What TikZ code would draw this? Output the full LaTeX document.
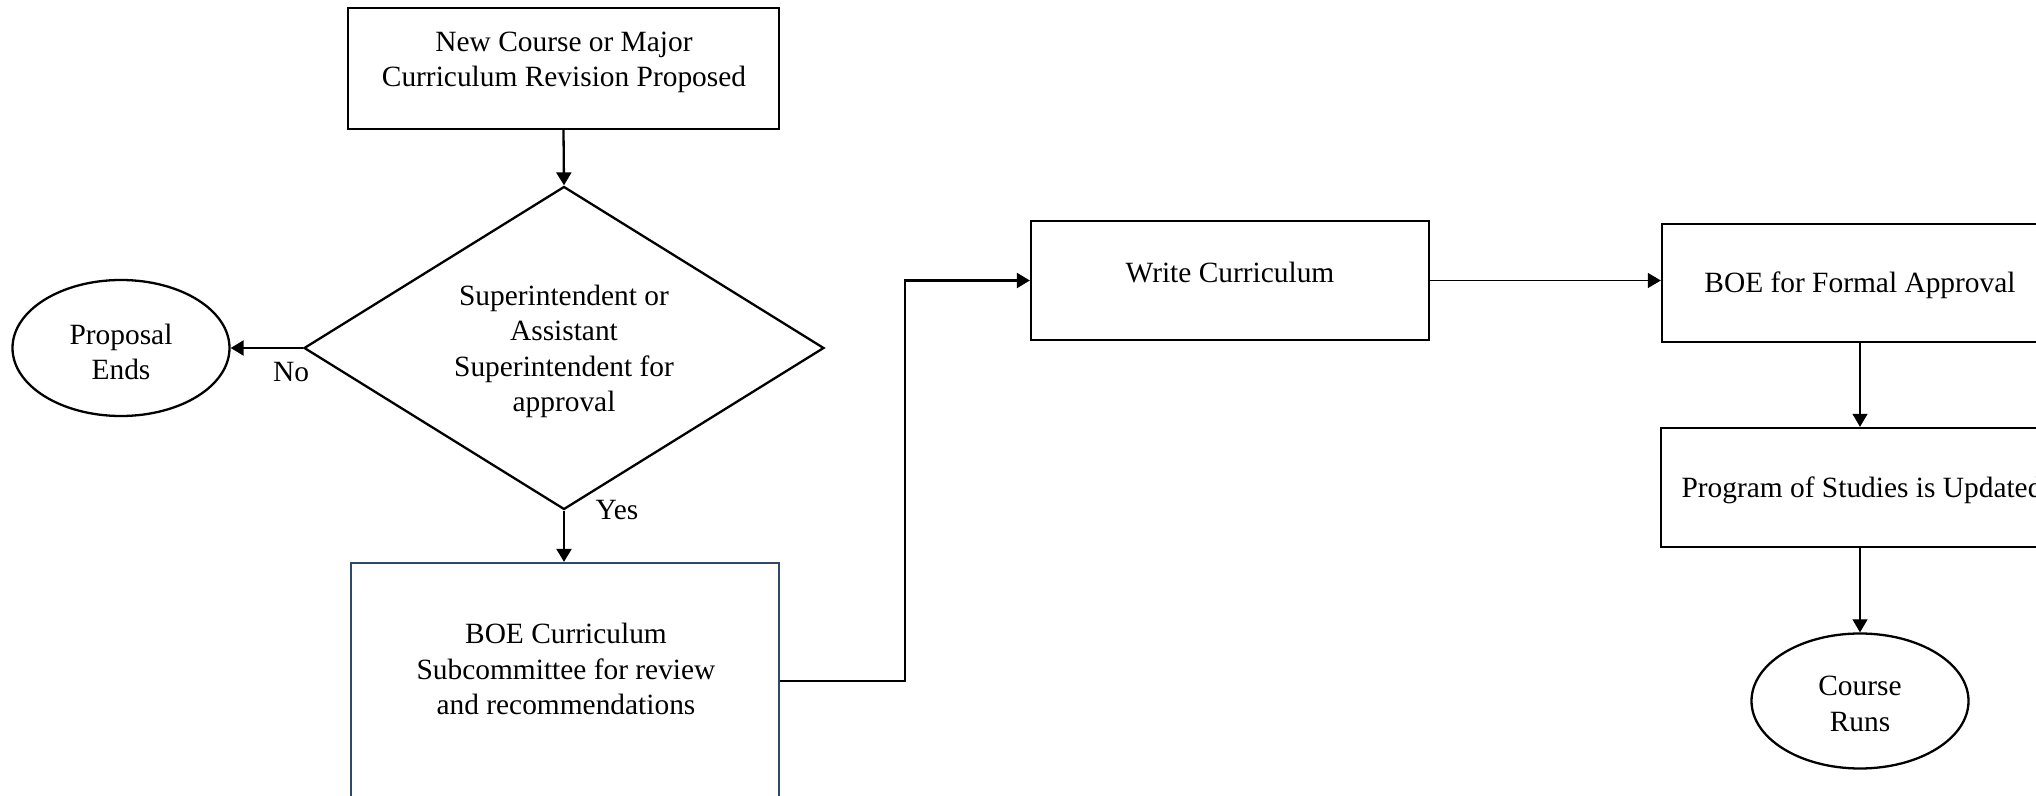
\documentclass[tikz,border=0pt]{standalone}
\usepackage{fontspec}
\setmainfont{Liberation Serif}
\usetikzlibrary{shapes.geometric,arrows.meta}
\definecolor{boeblue}{HTML}{2F4A68}
\tikzset{
  box/.style={draw, line width=1.15pt, rectangle, inner sep=0pt},
  oval/.style={draw, line width=1.15pt, ellipse, inner sep=0pt},
  txt/.style={align=center, inner sep=0pt, font=\fontsize{14.7}{17.6}\selectfont},
  conn/.style={line width=1.15pt, -{Triangle[length=6.5pt,width=7.5pt]}},
  thinconn/.style={line width=0.6pt, -{Triangle[length=6.5pt,width=7.5pt]}},
}
\begin{document}
\begin{tikzpicture}[x=0.5pt,y=-0.5pt]
\useasboundingbox (0,0) rectangle (2036,796);
\clip (0,0) rectangle (2036,796);
% nodes
\node[box, minimum width=215.5pt, minimum height=60.5pt] (prop) at (563.5,68.5) {};
\node[txt] (propt) at (564,62.5) {New Course or Major\\Curriculum Revision Proposed};

\node[draw, line width=1.15pt, diamond, inner sep=0pt, minimum width=260pt, minimum height=161.5pt] (dia) at (564,348) {};
\node[txt] (diat) at (564,351.5) {Superintendent or\\Assistant\\Superintendent for\\approval};

\node[oval, minimum width=108.5pt, minimum height=68pt] (pend) at (121,348) {};
\node[txt] (pendt) at (121,352) {Proposal\\Ends};

\node[box, draw=boeblue, minimum width=214pt, minimum height=143.5pt] (boe) at (565,706.5) {};
\node[txt] (boet) at (566,669) {BOE Curriculum\\Subcommittee for review\\and recommendations};

\node[box, minimum width=199pt, minimum height=59.5pt] (wc) at (1230,280.5) {};
\node[txt] (wct) at (1230,273) {Write Curriculum};

\node[box, minimum width=198pt, minimum height=59pt] (bfa) at (1860,283) {};
\node[txt] (bfat) at (1860,285.5) {BOE for Formal Approval};

\node[box, minimum width=199pt, minimum height=59.5pt] (pos) at (1860,487.5) {};
\node[txt] (post) at (1862,490) {Program of Studies is Updated};

\node[oval, minimum width=108.5pt, minimum height=67.5pt] (cr) at (1860,701) {};
\node[txt] (crt) at (1860,704) {Course\\Runs};

% labels
\node[txt] (no) at (291,372) {No};
\node[txt] (yes) at (617,510) {Yes};

% connectors
\draw[conn] (prop.south) -- (dia.north);
\draw[conn] (dia.west) -- (pend.east);
\draw[conn] (dia.south) -- (dia.south |- boe.north);
\draw[conn] ([yshift=12.75pt]boe.east) -- ++(125,0) |- (wc.west);
\draw[thinconn] (wc.east) -- (wc.east -| bfa.west);
\draw[thinconn] (bfa.south) -- (pos.north);
\draw[thinconn] (pos.south) -- (cr.north);
\end{tikzpicture}
\end{document}
